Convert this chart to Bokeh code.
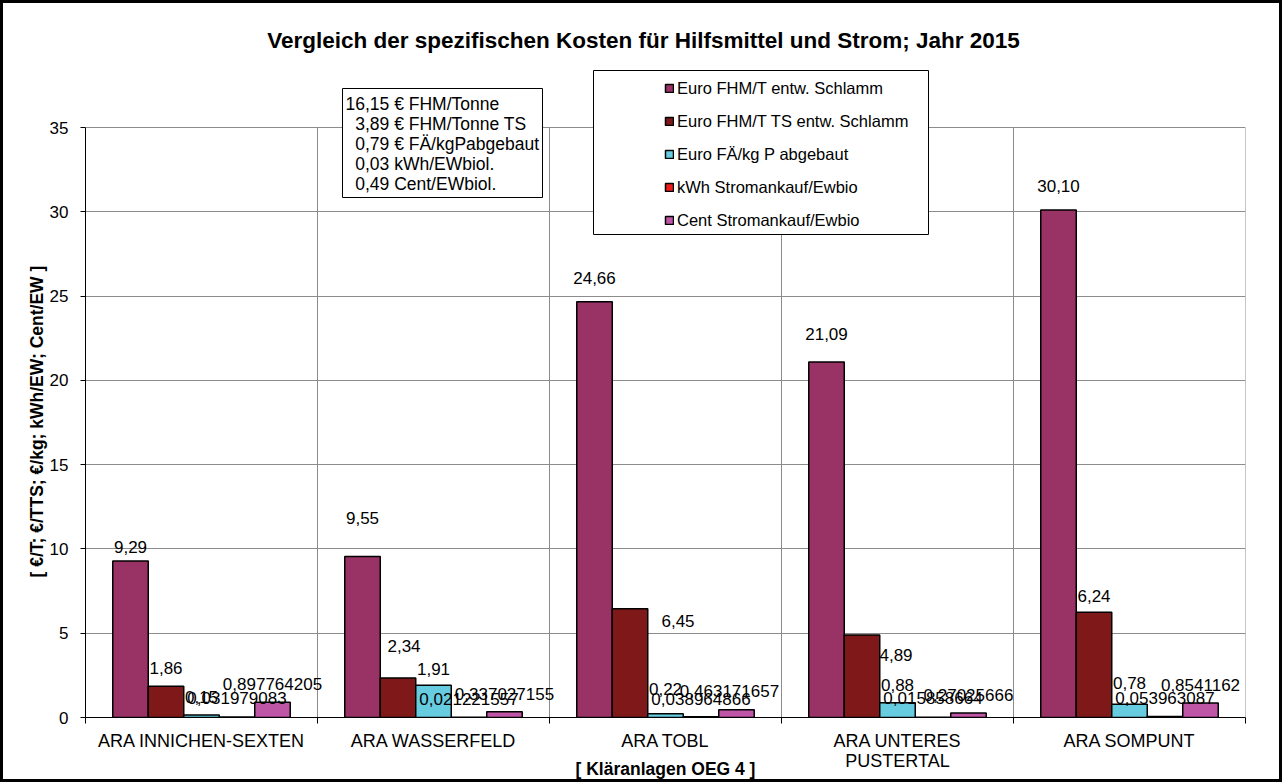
from bokeh.plotting import figure
from bokeh.models import (Range1d, FixedTicker, ColumnDataSource, LabelSet, Label,
                          BoxAnnotation, Legend, LegendItem, Title)
from bokeh.core.properties import value
from bokeh.embed import file_html
from bokeh.resources import INLINE

FONT = "Liberation Sans"

# ---------------- data ----------------
title_text = "Vergleich der spezifischen Kosten für Hilfsmittel und Strom; Jahr 2015"
x_title = "[ Kläranlagen OEG 4 ]"
y_title = "[ €/T; €/TTS; €/kg; kWh/EW; Cent/EW ]"

stations = ["ARA INNICHEN-SEXTEN", "ARA WASSERFELD", "ARA TOBL",
            "ARA UNTERES\nPUSTERTAL", "ARA SOMPUNT"]

series_names = ["Euro FHM/T entw. Schlamm", "Euro FHM/T TS entw. Schlamm",
                "Euro FÄ/kg P abgebaut", "kWh Stromankauf/Ewbio",
                "Cent Stromankauf/Ewbio"]

euro_fhm_t = [9.29, 9.55, 24.66, 21.09, 30.10]
euro_fhm_t_ts = [1.86, 2.34, 6.45, 4.89, 6.24]
euro_fae_kg_p = [0.15, 1.91, 0.22, 0.88, 0.78]
kwh_strom = [0.031979083, 0.021221557, 0.038964866, 0.015858664, 0.053963087]
cent_strom = [0.897764205, 0.337027155, 0.463171657, 0.27025666, 0.8541162]

# number of decimals shown in the data labels (None = full value)
label_decimals = [2, 2, 2, None, None]

y_ticks = [0, 5, 10, 15, 20, 25, 30, 35]

info_lines = ["16,15 € FHM/Tonne",
              "\u00a0\u00a03,89 € FHM/Tonne TS",
              "\u00a0\u00a00,79 € FÄ/kgPabgebaut",
              "\u00a0\u00a00,03 kWh/EWbiol.",
              "\u00a0\u00a00,49 Cent/EWbiol."]

# ---------------- styles ----------------
series_colors = ["#993366", "#7f1818", "#68cce0", "#ee1c1c", "#bf55a5"]
grid_color = "#8c8c8c"
bar_w = 0.153
# label nudges in pixels (dx, dy above the bar top)
label_dx = [[0, 0, 0, 0, 0],
            [0, 6, 48, 34, 0],
            [0, 0, 0, 0, 0],
            [0, 0, 0, 0, 0],
            [0, 0, -7, 0, 0]]
label_dy = [[14, 39, 24, 28, 24],
            [18, 32, -12, -20, 16],
            [18, 16, 25, 18, 21],
            [19, 18, 18, 19, 19],
            [18, 18, 19, 18, 18]]

# canvas geometry (pixels); the 3px CSS border hides the last 6px of the canvas
W, H = 1282, 782
ML, MR, MT, MB = 82, 40, 0, 68
FRAME_H = H - MT - MB
PLOT_H = 590            # height of the 0..35 value region inside the frame
y_end = y_ticks[-1] * FRAME_H / PLOT_H

p = figure(width=W, height=H, x_range=Range1d(-0.5, len(stations) - 0.5),
           y_range=Range1d(y_ticks[0], y_end), output_backend="svg",
           toolbar_location=None, title=None,
           min_border_left=ML, min_border_right=MR, min_border_top=MT,
           min_border_bottom=MB)
p.styles = {"border": "3px solid black"}
p.background_fill_color = "white"
p.border_fill_color = "white"
p.outline_line_color = None

centers = list(range(len(stations)))
boundaries = [c + 0.5 for c in centers]
n_se = len(series_names)

# category separators and right border of the value region
p.segment(x0=boundaries, y0=[y_ticks[0]] * len(boundaries),
          x1=boundaries, y1=[y_ticks[-1]] * len(boundaries),
          line_color=grid_color, line_width=1, level="underlay")

renderers = []
for k in range(n_se):
    vals = [euro_fhm_t, euro_fhm_t_ts, euro_fae_kg_p, kwh_strom, cent_strom][k]
    xs = [c + (k - (n_se - 1) / 2) * bar_w for c in centers]
    if label_decimals[k] is None:
        labels = [repr(v).replace(".", ",") for v in vals]
    else:
        labels = [f"{v:.{label_decimals[k]}f}".replace(".", ",") for v in vals]
    src = ColumnDataSource(dict(x=xs, top=vals, label=labels,
                                dx=label_dx[k], dy=label_dy[k]))
    r = p.vbar(x="x", top="top", width=bar_w, source=src,
               fill_color=series_colors[k], line_color="black", line_width=1.5)
    renderers.append(r)
    p.add_layout(LabelSet(x="x", y="top", text="label", x_offset="dx", y_offset="dy",
                          source=src, text_align="center", text_baseline="middle",
                          text_font=value(FONT), text_font_size=value("17px"),
                          text_color="black"))

# axes
p.xaxis.ticker = FixedTicker(ticks=centers,
                             minor_ticks=[c - 0.5 for c in centers] + [centers[-1] + 0.5])
p.xaxis.major_label_overrides = {c: s for c, s in zip(centers, stations)}
p.xaxis.major_tick_line_color = None
p.xaxis.major_tick_out = 0
p.xaxis.major_tick_in = 0
p.xaxis.minor_tick_line_color = "black"
p.xaxis.minor_tick_out = 6
p.xaxis.minor_tick_in = 0
p.xaxis.axis_line_color = "black"
p.xaxis.major_label_text_font = FONT
p.xaxis.major_label_text_font_size = "18px"
p.xaxis.major_label_text_color = "black"
p.xaxis.major_label_text_line_height = 1.0
p.xaxis.major_label_standoff = 7
p.xaxis.axis_label = x_title
p.xaxis.axis_label_text_font = FONT
p.xaxis.axis_label_text_font_style = "bold"
p.xaxis.axis_label_text_font_size = "17.5px"
p.xaxis.axis_label_text_color = "black"
p.xaxis.axis_label_standoff = -15

p.yaxis.bounds = (y_ticks[0], y_ticks[-1])
p.yaxis.ticker = FixedTicker(ticks=y_ticks)
p.yaxis.major_tick_out = 5
p.yaxis.major_tick_in = 0
p.yaxis.minor_tick_line_color = None
p.yaxis.axis_line_color = "black"
p.yaxis.major_tick_line_color = "black"
p.yaxis.major_label_text_font = FONT
p.yaxis.major_label_text_font_size = "17px"
p.yaxis.major_label_text_color = "black"
p.yaxis.major_label_standoff = 12

# y axis title, centred on the 0..35 value region
p.add_layout(Title(text=y_title, align="left", offset=140, standoff=0,
                   text_font=FONT, text_font_style="bold", text_font_size="17.5px",
                   text_color="black"), "left")

p.xgrid.grid_line_color = None
p.ygrid.ticker = FixedTicker(ticks=y_ticks[1:])
p.ygrid.grid_line_color = grid_color

# boxes (legend frame and info box), screen units relative to the frame
p.add_layout(BoxAnnotation(left=508, right=843, bottom=483, top=647,
                           left_units="screen", right_units="screen",
                           top_units="screen", bottom_units="screen",
                           fill_color="white", fill_alpha=1.0,
                           line_color="black", line_alpha=1.0, line_width=1))
p.add_layout(BoxAnnotation(left=257, right=457, bottom=520, top=629,
                           left_units="screen", right_units="screen",
                           top_units="screen", bottom_units="screen",
                           fill_color="white", fill_alpha=1.0,
                           line_color="black", line_alpha=1.0, line_width=1))

for i, line in enumerate(info_lines):
    p.add_layout(Label(x=260, y=614 - 20 * i, x_units="screen", y_units="screen",
                       text=line, text_align="left", text_baseline="middle",
                       text_font=FONT, text_font_size="17.5px", text_color="black"))

# chart title
p.add_layout(Label(x=558, y=677, x_units="screen", y_units="screen", text=title_text,
                   text_align="center", text_baseline="middle", text_font=FONT,
                   text_font_style="bold", text_font_size="22.5px", text_color="black"))

legend = Legend(items=[LegendItem(label=n, renderers=[r]) for n, r in zip(series_names, renderers)],
                location=(579, 487), orientation="vertical",
                glyph_width=10, glyph_height=10, label_standoff=3,
                label_height=20, spacing=13, padding=0, margin=0,
                border_line_alpha=0, background_fill_alpha=0,
                label_text_font=FONT, label_text_font_size="16.5px",
                label_text_color="black")
p.add_layout(legend)

open("out.html", "w").write(file_html(p, INLINE))
